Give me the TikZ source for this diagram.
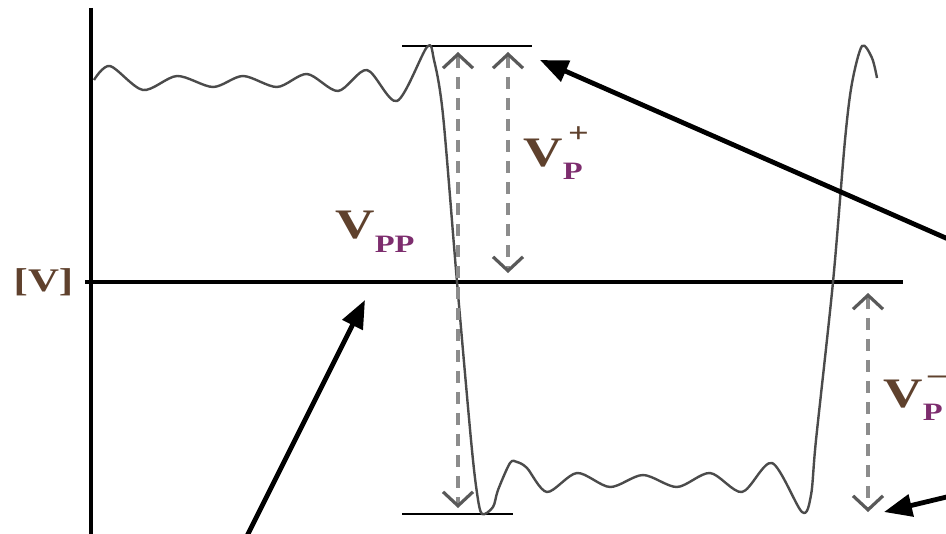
\documentclass[tikz,border=0pt]{standalone}
\usepackage{fontspec}
\setmainfont{Liberation Serif}
\usetikzlibrary{arrows.meta}

\definecolor{vcol}{RGB}{95,65,45}
\definecolor{pcol}{RGB}{125,45,110}
\definecolor{wavecol}{RGB}{75,75,75}
\definecolor{dashcol}{RGB}{140,140,140}

\newcommand{\wide}[1]{\scalebox{1.3}[1]{#1}}
\newcommand{\bigsz}{\fontsize{21}{21}\selectfont}
\newcommand{\subsz}{\fontsize{12.5}{12.5}\selectfont}

\tikzset{
    measure/.style={dashcol, line width=1.8pt, dash pattern=on 6pt off 4.5pt,
        {Straight Barb[length=7pt,width=15pt,line width=1.6pt,color=black!65]}-{Straight Barb[length=7pt,width=15pt,line width=1.6pt,color=black!65]}},
    pointer/.style={line width=2.4pt, -{Triangle[length=14pt,width=11pt]}},
    level/.style={line width=1.3pt},
    vlabel/.style={inner sep=0pt, anchor=base west, text=vcol, font=\bfseries\bigsz},
}

\begin{document}
\begin{tikzpicture}[x=0.5pt, y=-0.5pt]
    \useasboundingbox (0,0) rectangle (946,534);
    \clip (0,0) rectangle (946,534);

    % Draw axes
    \draw[line width=2.3pt] (91, 8) -- (91, 534);
    \draw[line width=2.1pt] (85, 282) -- (903, 282);
    \node[inner sep=0pt, text=vcol, font=\bfseries\fontsize{16.5}{16.5}\selectfont] (unit) at (43.5, 282) {\wide{[V]}};

    % Peak levels
    \coordinate (top l) at (402, 46);
    \coordinate (top r) at (532, 46);
    \coordinate (bot l) at (402, 514);
    \coordinate (bot r) at (513, 514);
    \draw[level] (top l) -- (top r);
    \draw[level] (bot l) -- (bot r);

    % Square wave with ringing
    \draw[wavecol, line width=1.2pt] plot[smooth, tension=0.5] coordinates {
        (94,80) (110,66) (143,90) (177,76) (213,87) (243,76) (277,87) (307,74)
        (338,91) (367,70) (397,101) (427,47) (434,60) (443,115) (457,282)
        (471,440) (477,493) (482,514) (493,507) (498,490) (510,463) (517,462)
        (527,468) (547,492) (577,473) (610,487) (643,475) (677,487) (710,473)
        (742,492) (772,463) (802,512) (811,495) (816,440) (833,282) (845,140)
        (852,83) (862,46) (872,58) (877,78)};

    % Measured voltages
    \coordinate (pp top) at (458, 52);
    \coordinate (pp bot) at (458, 508);
    \coordinate (pos top) at (508, 52);
    \coordinate (pos bot) at (508, 273);
    \coordinate (neg top) at (868, 293);
    \coordinate (neg bot) at (868, 512);
    \draw[measure] (pp top) -- (pp bot);
    \draw[measure] (pos top) -- (pos bot);
    \draw[measure] (neg top) -- (neg bot);

    % Labels
    \node[vlabel] (vpp) at (335, 238) {\wide{V\raisebox{-7pt}{\subsz\color{pcol}PP}}};
    \node[vlabel] (vpos) at (523, 167) {\wide{V\rlap{\raisebox{-6.5pt}{\subsz\color{pcol}P}}\hspace{2pt}\raisebox{12pt}{\fontsize{14}{14}\selectfont +}}};
    \node[vlabel] (vneg) at (883, 407) {\wide{V\rlap{\raisebox{-6.5pt}{\subsz\color{pcol}P}}\hspace{2pt}\raisebox{12pt}{\fontsize{14}{14}\selectfont --}}};

    % Pointers
    \coordinate (tail a) at (980, 253);
    \coordinate (tip a) at (540, 60);
    \coordinate (tail b) at (980, 489);
    \coordinate (tip b) at (884, 512);
    \coordinate (tail c) at (240, 550);
    \coordinate (tip c) at (365, 300);
    \draw[pointer] (tail a) -- (tip a);
    \draw[pointer] (tail b) -- (tip b);
    \draw[pointer] (tail c) -- (tip c);
\end{tikzpicture}
\end{document}
